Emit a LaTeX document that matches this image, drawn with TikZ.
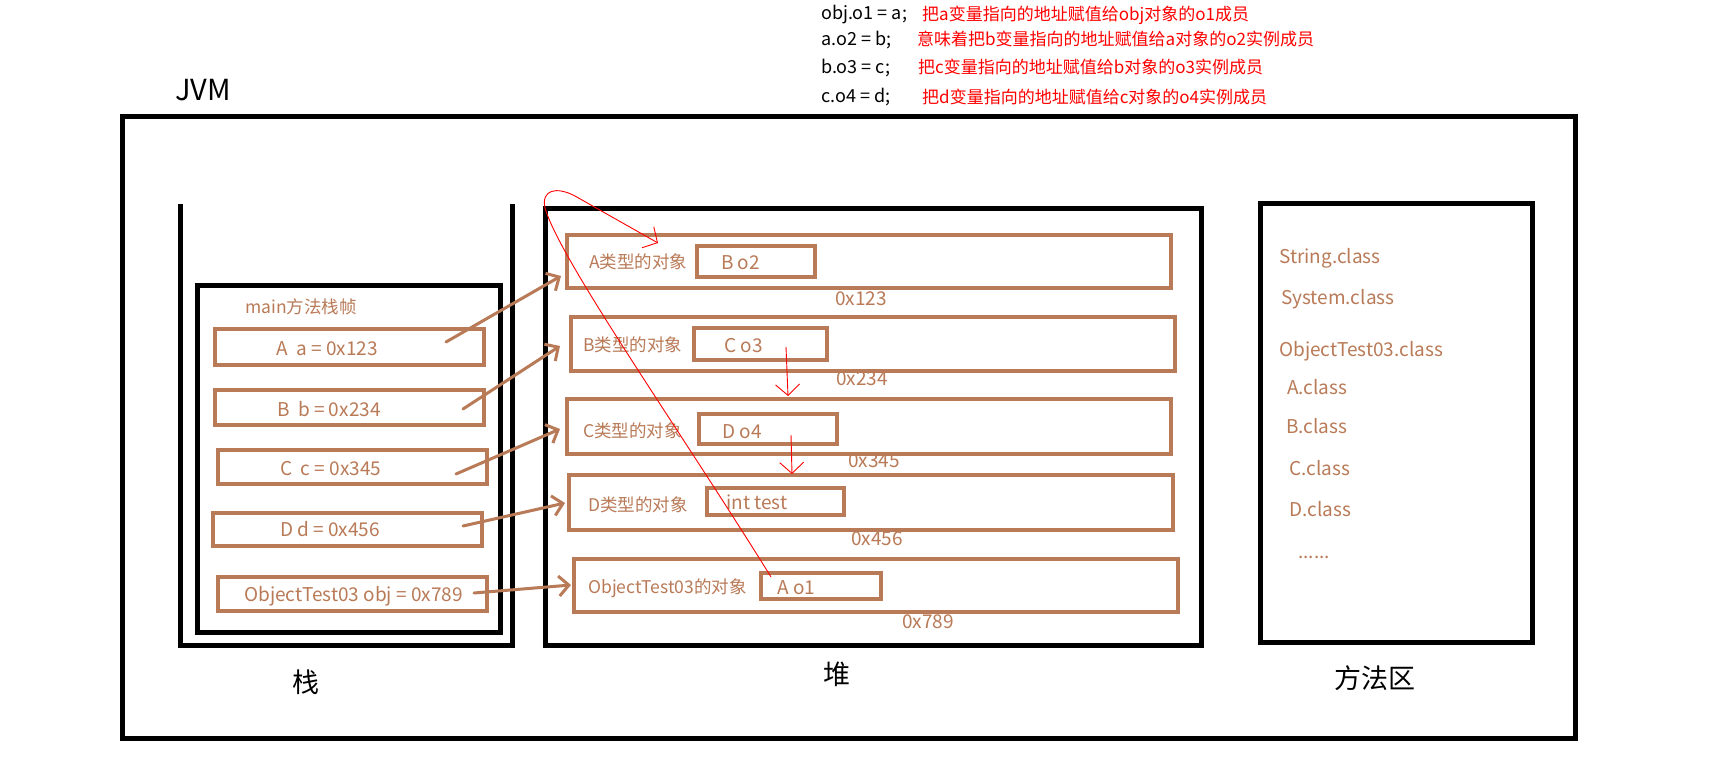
\documentclass[tikz,border=0pt]{standalone}
\usepackage{fontspec}
\setmainfont{Noto Sans CJK SC}
\usetikzlibrary{arrows.meta}
\definecolor{brn}{HTML}{B97A57}
\definecolor{rd}{HTML}{FF0000}
\begin{document}
\begin{tikzpicture}[x=1pt,y=-1pt,
  blk/.style={draw=black, line width=5pt, inner sep=0pt, outer sep=0pt},
  objbox/.style={draw=brn, line width=4.5pt, inner sep=0pt, outer sep=0pt},
  varbox/.style={draw=brn, line width=4pt, inner sep=0pt, outer sep=0pt},
  fld/.style={draw=brn, line width=3.5pt, inner sep=0pt, outer sep=0pt},
  txt/.style={inner sep=0pt, anchor=west, text height=1.2em, text depth=0.1em},
  btxt/.style={txt, text=brn},
  lat/.style={font=\fontsize{19}{22}\selectfont},
  cjk/.style={font=\fontsize{17.5}{21}\selectfont},
  big/.style={font=\fontsize{27}{30}\selectfont},
  ptr/.style={draw=brn, line width=3pt, line cap=round, -{Straight Barb[length=10pt,width=20pt]}},
  rptr/.style={draw=rd, line width=0.9pt, -{Straight Barb[length=11pt,width=24pt]}}
]
\fill[white] (0,0) rectangle (1720,769);
\useasboundingbox (0,0) rectangle (1720,769);

% top code lines
\node[txt, lat, font=\fontsize{18}{21}\selectfont] (c1) at (821,14) {obj.o1 = a;};
\node[txt, cjk, text=rd, font=\fontsize{17}{20}\selectfont] (r1) at (922,15) {把a变量指向的地址赋值给obj对象的o1成员};
\node[txt, lat, font=\fontsize{18}{21}\selectfont] (c2) at (821,40) {a.o2 = b;};
\node[txt, cjk, text=rd, font=\fontsize{17}{20}\selectfont] (r2) at (917,40) {意味着把b变量指向的地址赋值给a对象的o2实例成员};
\node[txt, lat, font=\fontsize{18}{21}\selectfont] (c3) at (821,68) {b.o3 = c;};
\node[txt, cjk, text=rd, font=\fontsize{17}{20}\selectfont] (r3) at (918,68) {把c变量指向的地址赋值给b对象的o3实例成员};
\node[txt, lat, font=\fontsize{18}{21}\selectfont] (c4) at (821,97) {c.o4 = d;};
\node[txt, cjk, text=rd, font=\fontsize{17}{20}\selectfont] (r4) at (922,98) {把d变量指向的地址赋值给c对象的o4实例成员};

% JVM
\node[txt, font=\fontsize{29}{32}\selectfont] (jvmlbl) at (175,95) {JVM};
\node[blk, minimum width=1453pt, minimum height=622pt] (jvm) at (848.5,427) {};

% stack
\coordinate (s1) at (180,204);
\coordinate (s2) at (180,645);
\coordinate (s3) at (512,645);
\coordinate (s4) at (512,204);
\draw[line width=5pt] (s1) -- (s2) -- (s3) -- (s4);
\node[blk, minimum width=303pt, minimum height=347pt] (frame) at (348.5,458.5) {};
\node[btxt, cjk] (mainlbl) at (245,308) {main方法栈帧};

\node[varbox, minimum width=269pt, minimum height=36pt] (vA) at (349.5,347) {};
\node[varbox, minimum width=269pt, minimum height=35pt] (vB) at (349.5,407.5) {};
\node[varbox, minimum width=269pt, minimum height=34pt] (vC) at (352.5,467) {};
\node[varbox, minimum width=269pt, minimum height=33pt] (vD) at (347.5,529.5) {};
\node[varbox, minimum width=269pt, minimum height=34pt] (vO) at (352.5,594) {};
\node[btxt, lat] (tA) at (276,350) {A\ \ a = 0x123};
\node[btxt, lat] (tB) at (277,411) {B\ \ b = 0x234};
\node[btxt, lat] (tC) at (280,470) {C\ \ c = 0x345};
\node[btxt, lat] (tD) at (280,531) {D d = 0x456};
\node[btxt, lat] (tO) at (244,596) {ObjectTest03 obj = 0x789};

% heap
\node[blk, minimum width=656pt, minimum height=437pt] (heap) at (873,426.5) {};
\node[objbox, minimum width=604pt, minimum height=53pt] (hA) at (869,261.5) {};
\node[objbox, minimum width=604pt, minimum height=54pt] (hB) at (873,344) {};
\node[objbox, minimum width=604pt, minimum height=55pt] (hC) at (869,426.5) {};
\node[objbox, minimum width=604pt, minimum height=55pt] (hD) at (871,502.5) {};
\node[objbox, minimum width=604pt, minimum height=53pt] (hO) at (876,585.5) {};

\node[fld, minimum width=118pt, minimum height=31pt] (fA) at (756,261.5) {};
\node[fld, minimum width=133pt, minimum height=32pt] (fB) at (760.5,344) {};
\node[fld, minimum width=138pt, minimum height=30pt] (fC) at (768,429) {};
\node[fld, minimum width=137pt, minimum height=27pt] (fD) at (775.5,501.5) {};
\node[fld, minimum width=120pt, minimum height=26pt] (fO) at (821,586) {};

\node[btxt, cjk] (nA) at (589,263) {A类型的对象};
\node[btxt, cjk] (nB) at (583,346) {B类型的对象};
\node[btxt, cjk] (nC) at (583,432) {C类型的对象};
\node[btxt, cjk] (nD) at (588,506) {D类型的对象};
\node[btxt, cjk] (nO) at (588,588) {ObjectTest03的对象};

\node[btxt, lat] (gA) at (721,264) {B o2};
\node[btxt, lat] (gB) at (724,347) {C o3};
\node[btxt, lat] (gC) at (722,433) {D o4};
\node[btxt, lat] (gD) at (726,504) {int test};
\node[btxt, lat] (gO) at (777,589) {A o1};

\node[btxt, lat] (aA) at (835,300) {0x123};
\node[btxt, lat] (aB) at (836,380) {0x234};
\node[btxt, lat] (aC) at (848,462) {0x345};
\node[btxt, lat] (aD) at (851,540) {0x456};
\node[btxt, lat] (aO) at (902,623) {0x789};

% method area
\node[blk, minimum width=272pt, minimum height=439pt] (meth) at (1396,422.5) {};
\node[btxt, lat] (m1) at (1279,258) {String.class};
\node[btxt, lat] (m2) at (1281,299) {System.class};
\node[btxt, lat] (m3) at (1279,351) {ObjectTest03.class};
\node[btxt, lat] (m4) at (1287,389) {A.class};
\node[btxt, lat] (m5) at (1286,428) {B.class};
\node[btxt, lat] (m6) at (1289,470) {C.class};
\node[btxt, lat] (m7) at (1289,511) {D.class};
\node[btxt, lat] (m8) at (1298,553) {......};

% bottom labels
\node[txt, big, anchor=center] (lstack) at (306,687) {栈};
\node[txt, big, anchor=center] (lheap) at (837,679) {堆};
\node[txt, big, anchor=center] (lmeth) at (1375,683) {方法区};

% brown pointers
\coordinate (pA) at (446,342); \coordinate (qA) at (561,276);
\coordinate (pB) at (463,409); \coordinate (qB) at (560,346);
\coordinate (pC) at (456,474); \coordinate (qC) at (560,429);
\coordinate (pD) at (463,526); \coordinate (qD) at (565,503);
\coordinate (pO) at (474,593); \coordinate (qO) at (571,585);
\draw[ptr] (pA) -- (qA);
\draw[ptr] (pB) -- (qB);
\draw[ptr] (pC) -- (qC);
\draw[ptr] (pD) -- (qD);
\draw[ptr] (pO) -- (qO);

% red references
\coordinate (ro1) at (771,577);
\coordinate (rtA) at (658,243);
\draw[rptr] (ro1) .. controls (680,430) and (560,260) .. (545,208)
  .. controls (541,190) and (556,186) .. (575,196) -- (rtA);
\coordinate (ro3) at (786,347); \coordinate (rtC) at (788,396);
\coordinate (ro4) at (791,435); \coordinate (rtD) at (792,474);
\draw[rptr] (ro3) -- (rtC);
\draw[rptr] (ro4) -- (rtD);
\end{tikzpicture}
\end{document}
